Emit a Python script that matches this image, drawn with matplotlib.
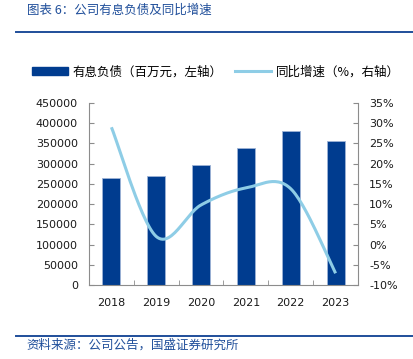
import numpy as np
import matplotlib
matplotlib.use("Agg")
import matplotlib.pyplot as plt
from matplotlib.lines import Line2D
from matplotlib.patches import Patch

years = ["2018", "2019", "2020", "2021", "2022", "2023"]
debt = [264000, 270000, 296500, 338500, 382000, 355000]
growth = [29.0, 2.0, 9.8, 14.0, 13.8, -7.1]
left_ticks = [0, 50000, 100000, 150000, 200000, 250000, 300000, 350000, 400000, 450000]
right_ticks = [-10, -5, 0, 5, 10, 15, 20, 25, 30, 35]

title = "图表 6：公司有息负债及同比增速"
source = "资料来源：公司公告，国盛证券研究所"
bar_label = "有息负债（百万元，左轴）"
line_label = "同比增速（%，右轴）"

CJK = ["Noto Sans CJK SC", "DejaVu Sans"]
bar_color = "#003C8F"
line_color = "#8ECDE6"
head_color = "#1F4E9A"

fig = plt.figure(figsize=(4.13, 3.59), dpi=100)
ax = fig.add_axes([0.2155, 0.2061, 0.6513, 0.507])
ax2 = ax.twinx()

x = np.arange(len(years))
ax.bar(x, debt, width=0.40, color=bar_color, edgecolor="#9DB3D6", linewidth=0.6, zorder=2)
ax.set_xlim(-0.5, len(years) - 0.5)
ax.set_ylim(0, 450000)
ax.set_yticks(left_ticks)
ax.set_yticklabels([str(v) for v in left_ticks])
ax.set_xticks(x)
ax.set_xticklabels(years)
ax.set_xticks(np.arange(len(years) + 1) - 0.5, minor=True)

ax2.set_ylim(-10, 35)
ax2.set_yticks(right_ticks)
ax2.set_yticklabels([f"{v}%" for v in right_ticks])

for a in (ax, ax2):
    a.spines["top"].set_visible(False)
    for s in ("left", "right", "bottom"):
        a.spines[s].set_color("#8C8C8C")
        a.spines[s].set_linewidth(0.8)
ax.spines["right"].set_visible(False)
ax2.spines["left"].set_visible(False)
ax2.spines["bottom"].set_visible(False)

ax.tick_params(axis="y", direction="in", length=3.5, color="#8C8C8C", labelsize=8, labelcolor="#1a1a1a", pad=8)
ax.tick_params(axis="x", which="major", length=0, labelsize=8, labelcolor="#1a1a1a", pad=9)
ax.tick_params(axis="x", which="minor", direction="in", length=3.5, color="#8C8C8C")
ax2.tick_params(axis="y", direction="in", length=3.5, color="#8C8C8C", labelsize=8, labelcolor="#1a1a1a", pad=8)

# Smoothed line (Catmull-Rom in display space, like Excel smoothing)
fig.canvas.draw()
pts = ax2.transData.transform(np.column_stack([x, growth]))
P = np.vstack([pts[0], pts, pts[-1]])
curve = []
for i in range(1, len(P) - 2):
    p0, p1, p2, p3 = P[i - 1], P[i], P[i + 1], P[i + 2]
    c1 = p1 + (p2 - p0) / 6.0
    c2 = p2 - (p3 - p1) / 6.0
    t = np.linspace(0, 1, 30)[:, None]
    seg = (1 - t) ** 3 * p1 + 3 * (1 - t) ** 2 * t * c1 + 3 * (1 - t) * t ** 2 * c2 + t ** 3 * p2
    curve.append(seg if i == 1 else seg[1:])
curve = np.vstack(curve)
curve_d = ax2.transData.inverted().transform(curve)
ax2.plot(curve_d[:, 0], curve_d[:, 1], color=line_color, linewidth=2.2, solid_capstyle="butt", zorder=3)

# Legend
handles = [Patch(facecolor=bar_color, edgecolor=bar_color),
           Line2D([0], [0], color=line_color, linewidth=2.2)]
leg = fig.legend(handles, [bar_label, line_label], loc="center", bbox_to_anchor=(0.522, 0.80),
                 ncol=2, frameon=False, prop={"family": CJK, "size": 9}, handlelength=2.9,
                 handleheight=0.55, columnspacing=1.0, handletextpad=0.35)

# Title and rules
fig.text(0.065, 0.972, title, fontsize=9, color=head_color, family=CJK, va="center", ha="left")
fig.add_artist(Line2D([0.039, 1.0], [0.911, 0.911], color=head_color, linewidth=1.4, transform=fig.transFigure))
fig.add_artist(Line2D([0.039, 1.0], [0.064, 0.064], color=head_color, linewidth=1.4, transform=fig.transFigure))
fig.text(0.065, 0.038, source, fontsize=9, color=head_color, family=CJK, va="center", ha="left")

fig.savefig("out.png", dpi=100)
